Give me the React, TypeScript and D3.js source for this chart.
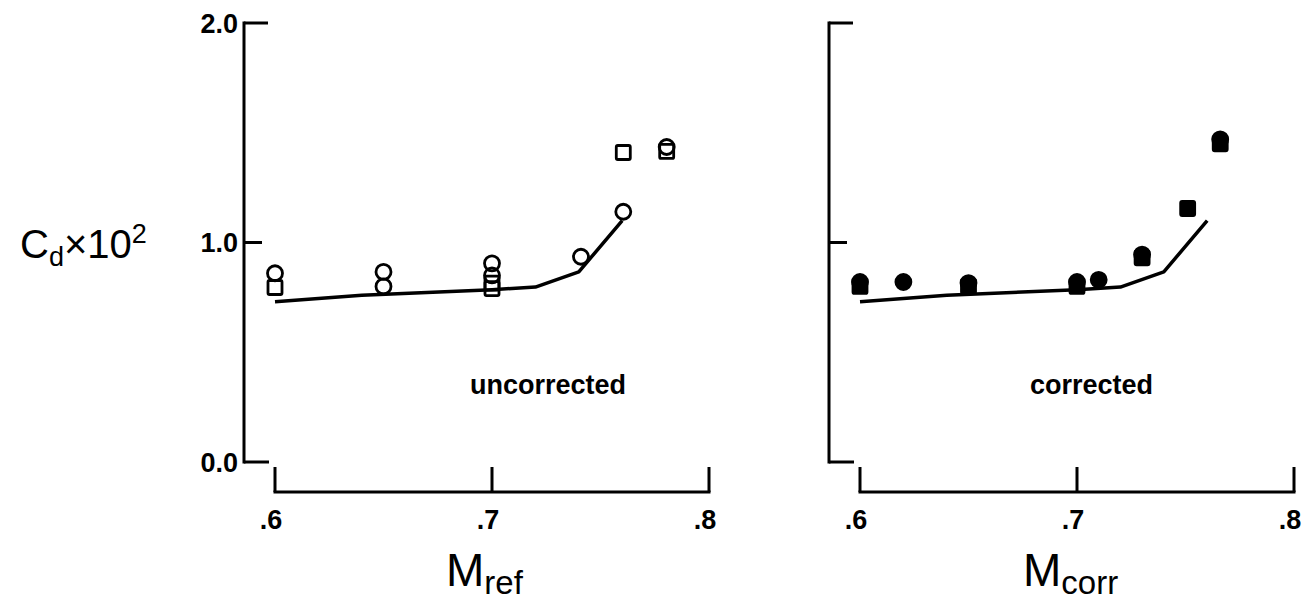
import React from "react";
import * as d3 from "d3";

// ---- data ----
const M_TICKS = [0.6, 0.7, 0.8];
const M_TICK_LABELS = [".6", ".7", ".8"];
const CD_TICKS = [0, 1, 2];
const CD_TICK_LABELS = ["0.0", "1.0", "2.0"];

// theory curve (same in both panels)
const theoryM = [0.6, 0.64, 0.7, 0.72, 0.74, 0.76];
const theoryCd = [0.73, 0.76, 0.785, 0.797, 0.866, 1.1];

// uncorrected (open symbols)
const uncCircM = [0.6, 0.65, 0.65, 0.7, 0.7, 0.741, 0.7605, 0.7805];
const uncCircCd = [0.86, 0.866, 0.8, 0.905, 0.85, 0.935, 1.14, 1.435];
const uncSqM = [0.6, 0.7, 0.7, 0.7605, 0.7805];
const uncSqCd = [0.795, 0.815, 0.79, 1.41, 1.415];

// corrected (filled symbols)
const corCircM = [0.6, 0.62, 0.65, 0.7, 0.71, 0.73, 0.766];
const corCircCd = [0.82, 0.82, 0.815, 0.82, 0.83, 0.945, 1.47];
const corSqM = [0.6, 0.65, 0.7, 0.73, 0.751, 0.766];
const corSqCd = [0.8, 0.8, 0.8, 0.93, 1.155, 1.45];

const FONT = "'Liberation Sans', Arial, Helvetica, sans-serif";

type PanelProps = {
  yAxisX: number;
  xRange: [number, number];
  showYLabels: boolean;
  filled: boolean;
  circM: number[];
  circCd: number[];
  sqM: number[];
  sqCd: number[];
  note: string;
  noteX: number;
  title: string;
  sub: string;
  titleX: number;
};

const Y0 = 462;
const Y2 = 23;
const XAXIS_Y = 492;

function Panel(p: PanelProps) {
  const x = d3.scaleLinear().domain([0.6, 0.8]).range(p.xRange);
  const y = d3.scaleLinear().domain([0, 2]).range([Y0, Y2]);
  const line = d3
    .line<number>()
    .x((_, i) => x(theoryM[i]))
    .y((d) => y(d));
  const sw = 3;
  const stroke = "#000";
  const fill = p.filled ? "#000" : "none";
  const tickLens = [25, 18, 24];
  return (
    <g>
      {/* y axis */}
      <line x1={p.yAxisX} x2={p.yAxisX} y1={y(2) - 1.5} y2={y(0) + 1.5} stroke={stroke} strokeWidth={sw} />
      {CD_TICKS.map((t, i) => (
        <line key={"yt" + i} x1={p.yAxisX} x2={p.yAxisX + tickLens[i]} y1={y(t)} y2={y(t)} stroke={stroke} strokeWidth={sw} />
      ))}
      {p.showYLabels &&
        CD_TICKS.map((t, i) => (
          <text key={"yl" + i} x={p.yAxisX - 6} y={y(t)} dy="0.36em" textAnchor="end" fontFamily={FONT} fontWeight="bold" fontSize={27}>
            {CD_TICK_LABELS[i]}
          </text>
        ))}
      {/* x axis */}
      <line x1={x(0.6) - 1.5} x2={x(0.8) + 1.5} y1={XAXIS_Y} y2={XAXIS_Y} stroke={stroke} strokeWidth={sw} />
      {M_TICKS.map((t, i) => (
        <line key={"xt" + i} x1={x(t)} x2={x(t)} y1={XAXIS_Y} y2={XAXIS_Y - 25} stroke={stroke} strokeWidth={sw} />
      ))}
      {M_TICKS.map((t, i) => (
        <text key={"xl" + i} x={x(t) - 4} y={529} textAnchor="middle" fontFamily={FONT} fontWeight="bold" fontSize={27}>
          {M_TICK_LABELS[i]}
        </text>
      ))}
      {/* theory line */}
      <path d={line(theoryCd) || ""} fill="none" stroke={stroke} strokeWidth={3.5} strokeLinejoin="round" />
      {/* symbols */}
      {p.sqM.map((m, i) => (
        <rect key={"s" + i} x={x(m) - 7} y={y(p.sqCd[i]) - 7} width={14} height={14} fill={fill} stroke={stroke} strokeWidth={2.8} rx={1.5} />
      ))}
      {p.circM.map((m, i) => (
        <circle key={"c" + i} cx={x(m)} cy={y(p.circCd[i])} r={7.5} fill={p.filled ? "#000" : "none"} stroke={stroke} strokeWidth={2.8} />
      ))}
      {/* note */}
      <text x={p.noteX} y={394} fontFamily={FONT} fontSize={27} fontWeight="bold">
        {p.note}
      </text>
      {/* axis title */}
      <text x={p.titleX} y={586} fontFamily={FONT} fontSize={46}>
        {p.title}
        <tspan fontSize={33} dy={8}>{p.sub}</tspan>
      </text>
    </g>
  );
}

export default function App() {
  return (
    <svg width={1303} height={603} style={{ position: "absolute", left: 0, top: 0, background: "#fff" }}>
      <rect x={0} y={0} width={1303} height={603} fill="#fff" />
      <text x={20} y={258} fontFamily={FONT} fontSize={40}>
        C<tspan fontSize={27} dy={8}>d</tspan>
        <tspan dy={-8}>×10</tspan>
        <tspan fontSize={27} dy={-15}>2</tspan>
      </text>
      <Panel
        yAxisX={244}
        xRange={[275, 709]}
        showYLabels={true}
        filled={false}
        circM={uncCircM}
        circCd={uncCircCd}
        sqM={uncSqM}
        sqCd={uncSqCd}
        note="uncorrected"
        noteX={470}
        title="M"
        sub="ref"
        titleX={446}
      />
      <Panel
        yAxisX={829}
        xRange={[860, 1294]}
        showYLabels={false}
        filled={true}
        circM={corCircM}
        circCd={corCircCd}
        sqM={corSqM}
        sqCd={corSqCd}
        note="corrected"
        noteX={1030}
        title="M"
        sub="corr"
        titleX={1023}
      />
    </svg>
  );
}
